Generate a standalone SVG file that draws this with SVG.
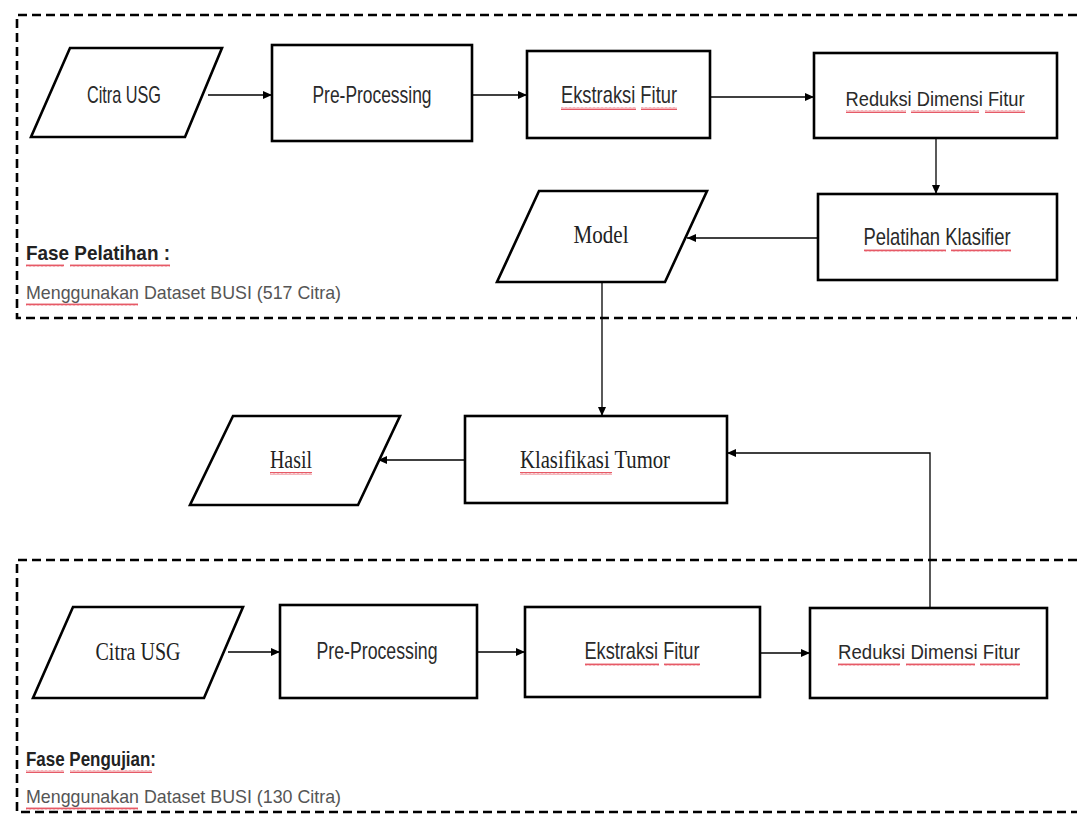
<svg xmlns="http://www.w3.org/2000/svg" width="1077" height="817" viewBox="0 0 1077 817">
<style>
.box{fill:#fff;stroke:#000;stroke-width:2.6}
.dash{fill:none;stroke:#000;stroke-width:2.6;stroke-dasharray:9 5}
.con{fill:none;stroke:#000;stroke-width:1.3}
.sans{font-family:"Liberation Sans",Arial,sans-serif;font-size:24px;fill:#2a2a2a;text-anchor:middle}
.red{font-size:21px}
.serif{font-family:"Liberation Serif","Times New Roman",serif;font-size:26px;fill:#222;text-anchor:middle}
.phase{font-family:"Liberation Sans",Arial,sans-serif;font-size:21px;font-weight:bold;fill:#222}
.sub{font-family:"Liberation Sans",Arial,sans-serif;font-size:19px;fill:#555}
.sq{fill:url(#wavy)}
</style>
<defs>
<marker id="ah" markerWidth="10" markerHeight="10" refX="9" refY="5" orient="auto" markerUnits="userSpaceOnUse">
<path d="M0,1 L9,5 L0,9 Z" fill="#000"/>
</marker>
<pattern id="wavy" width="4" height="3" patternUnits="userSpaceOnUse">
<path d="M0,2.5 L1,0.5 L2,2.5 L3,0.5 L4,2.5" fill="none" stroke="#e03040" stroke-width="0.8"/>
</pattern>
</defs>

<g id="phase-boxes">
<path class="dash" d="M1077,15 H17 V318 H1077"/>
<path class="dash" d="M1077,560 H17 V812 H1077"/>
</g>

<g id="connectors">
<path class="con" d="M208,95 H272" marker-end="url(#ah)"/>
<path class="con" d="M472,95 H527" marker-end="url(#ah)"/>
<path class="con" d="M710,97 H814" marker-end="url(#ah)"/>
<path class="con" d="M936,137 V194" marker-end="url(#ah)"/>
<path class="con" d="M818,238 H687" marker-end="url(#ah)"/>
<path class="con" d="M602,282 V416" marker-end="url(#ah)"/>
<path class="con" d="M465,460 H378" marker-end="url(#ah)"/>
<path class="con" d="M930,607 V453 H727" marker-end="url(#ah)"/>
<path class="con" d="M228,652 H280" marker-end="url(#ah)"/>
<path class="con" d="M477,652 H525" marker-end="url(#ah)"/>
<path class="con" d="M760,653 H810" marker-end="url(#ah)"/>
</g>

<g id="citra-usg-train">
<polygon class="box" points="70,48 222,48 185,137 31,137"/>
<text class="sans" x="124" y="103" textLength="74" lengthAdjust="spacingAndGlyphs">Citra USG</text>
</g>
<g id="preprocessing-train">
<rect class="box" x="272" y="45" width="200" height="96"/>
<text class="sans" x="372" y="103" textLength="119" lengthAdjust="spacingAndGlyphs">Pre-Processing</text>
</g>
<g id="ekstraksi-train">
<rect class="box" x="527" y="51" width="183" height="87"/>
<text class="sans" x="619" y="103" textLength="116" lengthAdjust="spacingAndGlyphs">Ekstraksi Fitur</text>
<rect class="sq" x="561" y="107" width="75" height="3"/>
<rect class="sq" x="641" y="107" width="36" height="3"/>
</g>
<g id="reduksi-train">
<rect class="box" x="814" y="53" width="243" height="85"/>
<text class="sans red" x="935" y="106" textLength="179" lengthAdjust="spacingAndGlyphs">Reduksi Dimensi Fitur</text>
<rect class="sq" x="846" y="110" width="60" height="3"/>
<rect class="sq" x="911" y="110" width="68" height="3"/>
<rect class="sq" x="985" y="110" width="40" height="3"/>
</g>
<g id="pelatihan-klasifier">
<rect class="box" x="818" y="194" width="239" height="86"/>
<text class="sans" x="937" y="245" textLength="147" lengthAdjust="spacingAndGlyphs">Pelatihan Klasifier</text>
<rect class="sq" x="864" y="249" width="82" height="3"/>
<rect class="sq" x="951" y="249" width="60" height="3"/>
</g>
<g id="model">
<polygon class="box" points="539,191 707,191 665,282 497,282"/>
<text class="serif" x="601" y="243" textLength="55" lengthAdjust="spacingAndGlyphs">Model</text>
</g>
<g id="fase-pelatihan">
<text class="phase" x="26" y="260" textLength="144" lengthAdjust="spacingAndGlyphs">Fase Pelatihan :</text>
<rect class="sq" x="26" y="264" width="38" height="3"/>
<rect class="sq" x="70" y="264" width="100" height="3"/>
<text class="sub" x="26" y="299" textLength="315" lengthAdjust="spacingAndGlyphs">Menggunakan Dataset BUSI (517 Citra)</text>
<rect class="sq" x="26" y="303" width="112" height="3"/>
</g>

<g id="klasifikasi-tumor">
<rect class="box" x="465" y="416" width="262" height="87"/>
<text class="serif" x="595" y="468" textLength="150" lengthAdjust="spacingAndGlyphs">Klasifikasi Tumor</text>
<rect class="sq" x="520" y="472" width="92" height="3"/>
</g>
<g id="hasil">
<polygon class="box" points="233,416 400,416 358,505 190,505"/>
<text class="serif" x="291" y="468" textLength="42" lengthAdjust="spacingAndGlyphs">Hasil</text>
<rect class="sq" x="270" y="472" width="42" height="3"/>
</g>

<g id="citra-usg-test">
<polygon class="box" points="73,607 243,607 204,698 33,698"/>
<text class="serif" x="138" y="660" textLength="85" lengthAdjust="spacingAndGlyphs">Citra USG</text>
</g>
<g id="preprocessing-test">
<rect class="box" x="280" y="605" width="197" height="93"/>
<text class="sans" x="377" y="659" textLength="121" lengthAdjust="spacingAndGlyphs">Pre-Processing</text>
</g>
<g id="ekstraksi-test">
<rect class="box" x="525" y="607" width="235" height="90"/>
<text class="sans" x="642" y="659" textLength="115" lengthAdjust="spacingAndGlyphs">Ekstraksi Fitur</text>
<rect class="sq" x="585" y="663" width="74" height="3"/>
<rect class="sq" x="664" y="663" width="36" height="3"/>
</g>
<g id="reduksi-test">
<rect class="box" x="810" y="608" width="237" height="90"/>
<text class="sans red" x="929" y="659" textLength="182" lengthAdjust="spacingAndGlyphs">Reduksi Dimensi Fitur</text>
<rect class="sq" x="838" y="663" width="62" height="3"/>
<rect class="sq" x="906" y="663" width="69" height="3"/>
<rect class="sq" x="980" y="663" width="40" height="3"/>
</g>
<g id="fase-pengujian">
<text class="phase" x="26" y="766" textLength="130" lengthAdjust="spacingAndGlyphs">Fase Pengujian:</text>
<rect class="sq" x="26" y="770" width="38" height="3"/>
<rect class="sq" x="70" y="770" width="82" height="3"/>
<text class="sub" x="26" y="803" textLength="315" lengthAdjust="spacingAndGlyphs">Menggunakan Dataset BUSI (130 Citra)</text>
<rect class="sq" x="26" y="807" width="112" height="3"/>
</g>
</svg>
